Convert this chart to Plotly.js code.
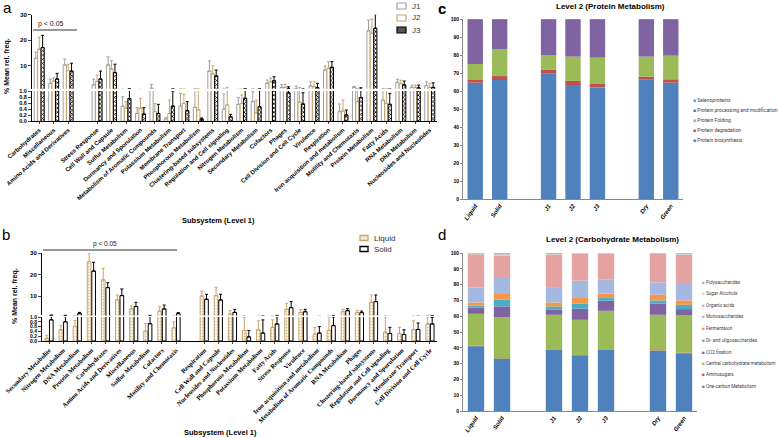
<!DOCTYPE html>
<html><head><meta charset="utf-8">
<script src="https://cdn.plot.ly/plotly-3.0.1.min.js"></script>
<style>html,body{margin:0;padding:0;background:#fff}#chart{width:778px;height:438px}</style>
</head><body><div id="chart"></div>
<script>
// ---------- Panel a data (J1, J2, J3) ----------
const catsA = ['Carbohydrates','Miscellaneous','Amino Acids and Derivatives',' ','Stress Response','Cell Wall and Capsule','Sulfur Metabolism','Dormancy and Sporulation','Metabolism of Aromatic Compounds','Potassium Metabolism','Membrane Transport','Phosphorous Metabolism','Clustering-based subsystems','Regulation and Cell signaling','Nitrogen Metabolism','Secondary Metabolism','Cofactors','Phages','Cell Division and Cell Cycle','Virulence','Respiration','Iron acquisition and metabolism','Motility and Chemotaxis','Protein Metabolism','Fatty Acids','RNA Metabolism','DNA Metabolism','Nucleosides and Nucleotides'];
const J1    = [12.9,3.1,10.3,null,2.5,10.3,0.50,0.26,1.2,0.08,0.50,0.46,7.9,0.40,0.56,0.65,3.1,1.5,1.05,2.1,8.3,0.32,1.5,23.7,0.70,3.5,1.5,2.2];
const J1err = [2.4,1.7,2.3,null,2.2,3.2,0.31,0.19,1.5,0.04,0.42,0.6,4.0,0.5,0.22,0.33,1.3,1.2,1.0,1.6,1.6,0.25,0.4,4.2,0.35,1.2,0.9,1.5];
const J2    = [16.5,4.0,8.1,null,3.8,8.7,0.43,0.43,0.32,0.26,0.59,0.37,6.8,0.54,0.59,0.28,3.7,1.5,0.63,1.8,9.0,0.34,0.65,22.7,0.59,3.0,1.5,1.5];
const J2err = [4.7,1.3,2.5,null,2.6,3.3,0.22,0.33,0.27,0.44,0.30,0.65,3.2,0.9,0.28,0.42,1.4,1.2,0.8,1.9,2.6,0.36,0.4,5.6,0.42,1.3,0.9,1.6];
const J3    = [17.1,4.8,7.9,null,4.8,7.3,0.75,0.24,0.26,0.50,0.35,0.07,6.0,0.15,0.76,0.48,4.1,0.94,0.57,1.4,9.4,0.21,0.78,24.7,0.56,2.5,1.3,1.5];
const J3err = [4.8,2.2,3.1,null,3.1,3.3,0.28,0.21,0.30,0.5,0.30,0.04,2.3,0.08,0.26,0.55,1.6,0.8,0.37,1.7,2.2,0.16,0.6,5.5,0.36,1.5,1.1,1.8];

// ---------- Panel b data (Liquid, Solid) ----------
const catsB = ['Secondary Metabolite','Nitrogen Metabolism','DNA Metabolism','Protein Metabolism','Carbohydrates','Amino Acids and Derivatives','Miscellaneous','Sulfur Metabolism','Cofactors','Motility and Chemotaxis',' ','Respiration','Cell Wall and Capsule','Nucleosides and Nucleotides','Phosphorous Metabolism','Potassium Metabolism','Fatty Acids','Stress Response','Virulence','Iron acquisition and metabolism','Metabolism of Aromatic Compounds','RNA Metabolism','Phages','Clustering-based subsystems','Regulation and Cell signaling','Dormancy and Sporulation','Membrane Transport','Cell Division and Cell Cycle'];
const Liquid    = [0.11,0.47,0.61,26.0,17.5,8.2,4.0,0.41,3.0,0.55,null,10.0,10.2,1.6,0.44,0.47,0.57,3.8,2.3,0.28,0.44,2.7,2.3,7.1,0.37,0.31,0.48,0.71];
const LiquidErr = [0.13,0.17,0.25,3.9,5.4,2.3,1.4,0.32,2.0,0.25,null,2.3,3.9,1.6,0.55,0.37,0.31,2.8,1.5,0.29,0.56,1.1,1.0,3.4,0.63,0.26,0.36,0.29];
const Solid     = [0.88,0.8,1.8,21.6,13.9,10.2,5.1,0.72,4.0,1.8,null,8.5,8.2,2.4,0.17,0.33,0.71,4.6,2.7,0.33,0.64,3.2,2.3,7.4,0.31,0.27,0.48,0.71];
const SolidErr  = [0.3,0.25,0.6,4.1,2.3,3.1,2.0,0.3,1.8,0.5,null,2.3,2.6,1.4,0.27,0.55,0.3,2.8,1.1,0.27,0.36,0.9,0.7,3.1,0.26,0.2,0.27,0.27];

// ---------- Panels c, d shared samples ----------
const samples = ['Liquid','Solid',' ','J1','J2','J3','  ','Dry','Green'];

// Panel c: Level 2 (Protein Metabolism), % of stack
const protNames = ['Protein biosynthesis','Protein degradation','Protein Folding','Protein processing and modification','Selenoproteins'];
const protBiosynthesis = [64.6,66.1,null,69.8,63.3,62.0,null,66.5,64.6];
const protDegradation  = [1.5,2.2,null,1.9,2.3,1.9,null,1.5,1.9];
const protFolding      = [8.9,15.0,null,8.3,13.5,14.6,null,11.1,13.1];
const protProcessing   = [24.9,16.6,null,19.9,20.8,21.4,null,20.8,20.3];
const protSeleno       = [0.1,0.1,null,0.1,0.1,0.1,null,0.1,0.1];

// Panel d: Level 2 (Carbohydrate Metabolism), % of stack
const carbNames = ['One-carbon Metabolism','Aminosugars','Central carbohydrate metabolism','CO2 fixation','Di- and oligosaccharides','Fermentaion','Monosaccharides','Organic acids','Sugar Alcohols','Polysaccharides'];
const carbOneCarbon = [41.0,33.0,null,38.7,35.1,38.7,null,38.1,36.6];
const carbAminosug  = [0.3,0.3,null,0.3,0.3,0.3,null,0.3,0.3];
const carbCentral   = [20.2,25.9,null,21.9,22.3,24.4,null,22.5,23.6];
const carbCO2       = [4.0,7.0,null,3.2,7.0,6.4,null,7.0,4.0];
const carbDiOligo   = [1.3,4.2,null,2.1,3.2,1.7,null,2.1,2.7];
const carbFerment   = [1.9,4.2,null,2.5,3.6,2.9,null,3.6,2.8];
const carbMono      = [9.5,10.2,null,9.7,11.0,8.7,null,7.8,11.0];
const carbOrganic   = [21.0,13.7,null,20.5,17.1,16.5,null,18.0,17.9];
const carbSugarAlc  = [0.3,0.5,null,0.3,0.2,0.2,null,0.2,0.3];
const carbPoly      = [0.5,1.0,null,0.8,0.2,0.2,null,0.4,0.7];

// ---------- helpers ----------
const W = 778, H = 438;
const px = x => x / W;
const py = y => 1 - y / H;
const zeros = a => a.map(v => v == null ? null : 0);
const realTicks = a => a.filter(c => c.trim() !== '');

const traces = [];
const annotations = [];
const shapes = [];

// ---------- Panel a ----------
const seriesA = [
  {name:'J1', y:J1, e:J1err, line:'#A0A0A0', offset:-0.345, pattern:{shape:''}},
  {name:'J2', y:J2, e:J2err, line:'#C8A46A', offset:-0.11, pattern:{shape:''}},
  {name:'J3', y:J3, e:J3err, line:'#000000', offset:0.125, pattern:{shape:'x', fgcolor:'#000', bgcolor:'#fff', size:3, solidity:0.45}}
];
seriesA.forEach(s => {
  ['y','y2'].forEach(ya => {
    traces.push({
      type:'bar', x:catsA, y:s.y, xaxis:'x', yaxis:ya, name:s.name, showlegend:false,
      offset:s.offset, width:0.22,
      marker:{color:'#ffffff', line:{color:s.line, width:1}, pattern:s.pattern},
      error_y:{type:'data', array:s.e, arrayminus:zeros(s.e), symmetric:false, color:s.line, thickness:1, width:1.5},
      hoverinfo:'x+y+name'
    });
  });
});

// ---------- Panel b ----------
const seriesB = [
  {name:'Liquid', y:Liquid, e:LiquidErr, line:'#C8A46A', offset:-0.29, pattern:{shape:'.', fgcolor:'#D9BE8E', bgcolor:'#fff', size:3, solidity:0.35}},
  {name:'Solid', y:Solid, e:SolidErr, line:'#000000', offset:0.03, pattern:{shape:''}}
];
seriesB.forEach(s => {
  ['y3','y4'].forEach(ya => {
    traces.push({
      type:'bar', x:catsB, y:s.y, xaxis:'x2', yaxis:ya, name:s.name, showlegend:false,
      offset:s.offset, width:0.26,
      marker:{color:'#ffffff', line:{color:s.line, width:1}, pattern:s.pattern},
      error_y:{type:'data', array:s.e, arrayminus:zeros(s.e), symmetric:false, color:s.line, thickness:1, width:1.5},
      hoverinfo:'x+y+name'
    });
  });
});

// ---------- Stacked panels ----------
function stacked(seriesList, names, colors, xa, ya) {
  let base = samples.map(() => 0);
  seriesList.forEach((vals, i) => {
    traces.push({
      type:'bar', x:samples, y:vals, base:base.slice(), xaxis:xa, yaxis:ya, name:names[i], showlegend:false,
      offsetgroup:'stack_'+xa, offset:-0.315, width:0.63,
      marker:{color:colors[i], line:{width:0}}, hoverinfo:'x+y+name'
    });
    base = base.map((b, k) => b + (vals[k] || 0));
  });
}
const protColors = ['#4F81BD','#C0504D','#9BBB59','#8064A2','#4BACC6'];
stacked([protBiosynthesis,protDegradation,protFolding,protProcessing,protSeleno], protNames, protColors, 'x3', 'y5');
const carbColors = ['#4F81BD','#C0504D','#9BBB59','#8064A2','#4BACC6','#F79646','#A5B8E0','#E4A3A2','#D3DFB5','#B7ADD0'];
stacked([carbOneCarbon,carbAminosug,carbCentral,carbCO2,carbDiOligo,carbFerment,carbMono,carbOrganic,carbSugarAlc,carbPoly], carbNames, carbColors, 'x4', 'y6');

// ---------- legends (drawn as annotations for compact spacing) ----------
function legendStack(names, colors, x, yTop, step, size) {
  for (let i = names.length - 1, r = 0; i >= 0; i--, r++) {
    annotations.push({xref:'paper', yref:'paper', x:px(x), y:py(yTop + r*step), xanchor:'left', yanchor:'middle',
      showarrow:false, text:'<span style="color:'+colors[i]+'">■</span> '+names[i],
      font:{size:size, color:'#404040', family:'Roboto'}});
  }
}
legendStack(protNames, protColors, 691, 100, 10, 5);
legendStack(carbNames, carbColors, 700, 282, 11.6, 4.7);

// panel a legend J1/J2/J3
const legA = [{n:'J1', line:'#A0A0A0', fill:'#fff'}, {n:'J2', line:'#C8A46A', fill:'#fff'}, {n:'J3', line:'#000', fill:'#555'}];
legA.forEach((l, i) => {
  const yc = 6 + i*12;
  shapes.push({type:'rect', xref:'paper', yref:'paper', x0:px(397), x1:px(406), y0:py(yc+3), y1:py(yc-3), line:{color:l.line, width:1.2}, fillcolor:l.fill});
  annotations.push({xref:'paper', yref:'paper', x:px(410), y:py(yc), xanchor:'left', yanchor:'middle', showarrow:false, text:l.n, font:{size:8, color:'#333'}});
});
// panel b legend
const legB = [{n:'Liquid', line:'#C8A46A', fill:'#F3E8D4'}, {n:'Solid', line:'#000', fill:'#fff'}];
legB.forEach((l, i) => {
  const yc = 238 + i*11;
  shapes.push({type:'rect', xref:'paper', yref:'paper', x0:px(360), x1:px(368), y0:py(yc+2.5), y1:py(yc-2.5), line:{color:l.line, width:1.3}, fillcolor:l.fill});
  annotations.push({xref:'paper', yref:'paper', x:px(372), y:py(yc), xanchor:'left', yanchor:'middle', showarrow:false, text:l.n, font:{size:8, color:'#333'}});
});

// ---------- text annotations ----------
const txt = (t, x, y, opt) => annotations.push(Object.assign({xref:'paper', yref:'paper', x:px(x), y:py(y), showarrow:false, text:t, xanchor:'center', yanchor:'middle', font:{size:8, color:'#000'}}, opt || {}));
txt('a', 1, 7, {xanchor:'left', font:{size:15, color:'#000'}});
txt('b', 0, 234, {xanchor:'left', font:{size:15, color:'#000'}});
txt('c', 436, 8, {xanchor:'left', font:{size:15, color:'#000', weight:'bold'}});
txt('d', 436, 234, {xanchor:'left', font:{size:15, color:'#000'}});
txt('p &lt; 0.05', 51, 24, {font:{size:7, color:'#222222'}});
txt('p &lt; 0.05', 105, 244, {font:{size:6.5, color:'#222222'}});
txt('% Mean rel. freq.', 7, 66, {textangle:-90, font:{size:7, color:'#000', weight:'bold'}});
txt('% Mean rel. freq.', 15, 296, {textangle:-90, font:{size:7, color:'#000', weight:'bold'}});
txt('Subsystem (Level 1)', 218, 220, {font:{size:7.5, color:'#000', weight:'bold'}});
txt('Subsystem (Level 1)', 220, 432, {font:{size:7.5, color:'#000', weight:'bold'}});
txt('Level 2 (Protein Metabolism)', 610, 6, {font:{size:8, color:'#000', weight:'bold'}});
txt('Level 2 (Carbohydrate Metabolism)', 612, 239, {font:{size:8, color:'#000', weight:'bold'}});

shapes.push({type:'line', xref:'paper', yref:'paper', x0:px(33), x1:px(77), y0:py(30), y1:py(30), line:{color:'#333', width:1}});
shapes.push({type:'line', xref:'paper', yref:'paper', x0:px(43), x1:px(177), y0:py(250), y1:py(250), line:{color:'#333', width:1}});

// ---------- axes ----------
const yBase = {showline:true, linecolor:'#000', linewidth:1, ticks:'outside', ticklen:3, tickwidth:1, showgrid:false, zeroline:false,
  tickfont:{size:6, color:'#000', weight:'bold'}, fixedrange:true};
const xBar = {type:'category', showline:true, linecolor:'#000', linewidth:1, ticks:'outside', ticklen:2, tickwidth:1, showgrid:false, zeroline:false, fixedrange:true};
const xStack = {type:'category', showline:true, linecolor:'#888', linewidth:1, ticks:'', showgrid:false, zeroline:false, fixedrange:true,
  tickangle:-55, tickfont:{size:6, color:'#000', weight:'bold', style:'italic'}};
const yStack = {showline:true, linecolor:'#888', linewidth:1, ticks:'outside', ticklen:2, tickcolor:'#888', showgrid:false, zeroline:false, fixedrange:true,
  range:[0,100], tickvals:[0,10,20,30,40,50,60,70,80,90,100], ticksuffix:'%', tickfont:{size:5, color:'#000', weight:'bold'}};

const layout = {
  width:W, height:H, margin:{l:0, r:0, t:0, b:0}, paper_bgcolor:'#fff', plot_bgcolor:'rgba(0,0,0,0)',
  barmode:'group', showlegend:false, font:{family:'Liberation Sans', color:'#000'},
  xaxis: Object.assign({}, xBar, {domain:[px(32), px(437)], anchor:'y2', categoryarray:catsA, categoryorder:'array', tickvals:realTicks(catsA),
    tickangle:-42, tickfont:{size:6, color:'#000', weight:'bold', family:'Liberation Sans'}}),
  yaxis: Object.assign({}, yBase, {domain:[py(88.7), py(14.7)], anchor:'x', range:[1,30], tickvals:[10,20,30]}),
  yaxis2: Object.assign({}, yBase, {domain:[py(121.3), py(91)], anchor:'x', range:[0,1], tickvals:[0,0.2,0.4,0.6,0.8,1.0], tickformat:'.1f', tickfont:{size:5.5, color:'#000', weight:'bold'}}),
  xaxis2: Object.assign({}, xBar, {domain:[px(42), px(437)], anchor:'y4', categoryarray:catsB, categoryorder:'array', tickvals:realTicks(catsB),
    tickangle:-45, tickfont:{size:6.5, color:'#000', weight:'bold', family:'Liberation Serif'}}),
  yaxis3: Object.assign({}, yBase, {domain:[py(315.4), py(253)], anchor:'x2', range:[1,30], tickvals:[10,20,30]}),
  yaxis4: Object.assign({}, yBase, {domain:[py(341), py(317)], anchor:'x2', range:[0,1], tickvals:[0,0.2,0.4,0.6,0.8,1.0], tickformat:'.1f', tickfont:{size:5, color:'#000', weight:'bold'}}),
  xaxis3: Object.assign({}, xStack, {domain:[px(463), px(683)], anchor:'y5', categoryarray:samples, categoryorder:'array', tickvals:realTicks(samples)}),
  yaxis5: Object.assign({}, yStack, {domain:[py(199), py(19)], anchor:'x3'}),
  xaxis4: Object.assign({}, xStack, {domain:[px(463), px(697)], anchor:'y6', categoryarray:samples, categoryorder:'array', tickvals:realTicks(samples)}),
  yaxis6: Object.assign({}, yStack, {domain:[py(411), py(253)], anchor:'x4'}),
  annotations: annotations,
  shapes: shapes
};

Plotly.newPlot('chart', traces, layout, {displayModeBar:false, staticPlot:true});
</script></body></html>
